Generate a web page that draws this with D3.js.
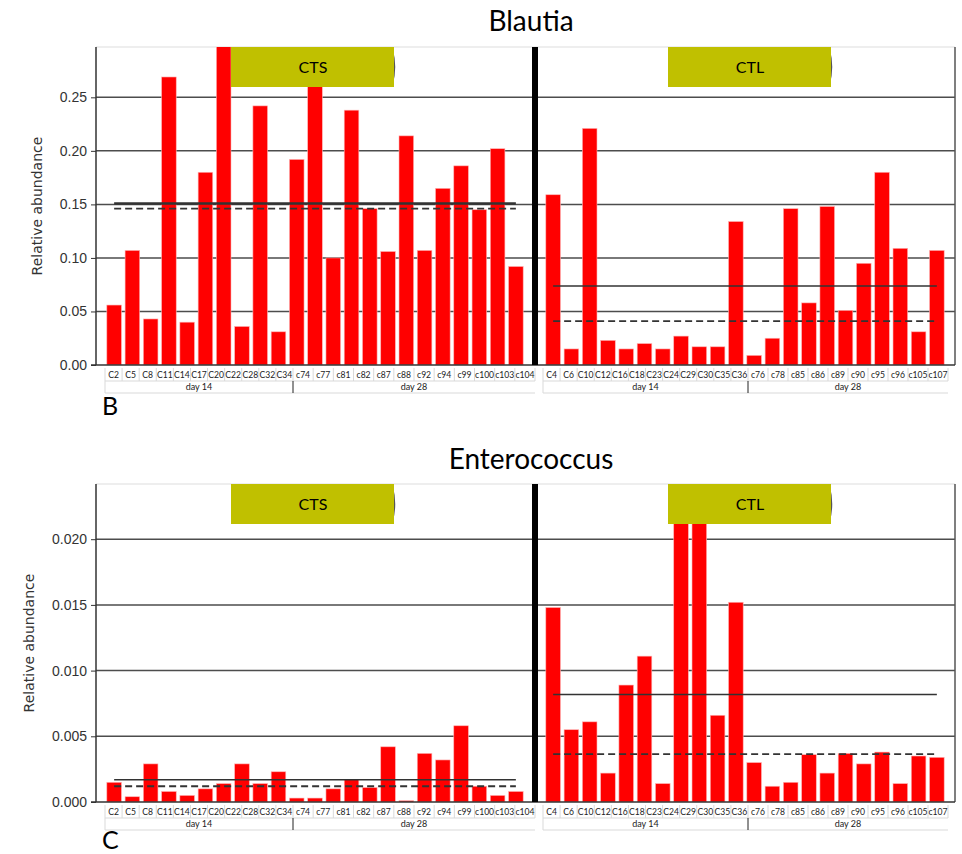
<!DOCTYPE html>
<html>
<head>
<meta charset="utf-8">
<script src="https://cdn.jsdelivr.net/npm/d3@7"></script>
<style>
body { margin: 0; background: #fff; }
svg { font-family: "DejaVu Sans", sans-serif; }
</style>
</head>
<body>
<svg id="chart" width="962" height="854"></svg>
<script>
// sample labels, split by day
let ctsDay14 = ["C2","C5","C8","C11","C14","C17","C20","C22","C28","C32","C34"];
let ctsDay28 = ["c74","c77","c81","c82","c87","c88","c92","c94","c99","c100","c103","c104"];
let ctlDay14 = ["C4","C6","C10","C12","C16","C18","C23","C24","C29","C30","C35","C36"];
let ctlDay28 = ["c76","c78","c85","c86","c89","c90","c95","c96","c105","c107"];

// relative abundance (bars that run off the top are estimated)
let blautiaCTS = [0.056,0.107,0.043,0.269,0.040,0.180,0.300,0.036,0.242,0.031,0.192,
                  0.271,0.100,0.238,0.146,0.106,0.214,0.107,0.165,0.186,0.145,0.202,0.092];
let blautiaCTL = [0.159,0.015,0.221,0.023,0.015,0.020,0.015,0.027,0.017,0.017,0.134,0.009,
                  0.025,0.146,0.058,0.148,0.051,0.095,0.180,0.109,0.031,0.107];
let enteroCTS  = [0.0015,0.0004,0.0029,0.0008,0.0005,0.0010,0.0014,0.0029,0.0014,0.0023,0.0003,
                  0.0003,0.0010,0.0017,0.0011,0.0042,0.0001,0.0037,0.0032,0.0058,0.0012,0.0005,0.0008];
let enteroCTL  = [0.0148,0.0055,0.0061,0.0022,0.0089,0.0111,0.0014,0.0400,0.0380,0.0066,0.0152,0.0030,
                  0.0012,0.0015,0.0036,0.0022,0.0037,0.0029,0.0038,0.0014,0.0035,0.0034];

let blautiaTicks = [0, 0.05, 0.10, 0.15, 0.20, 0.25];
let enteroTicks  = [0, 0.005, 0.010, 0.015, 0.020];

let ctsSamples = ctsDay14.concat(ctsDay28);
let ctlSamples = ctlDay14.concat(ctlDay28);

var svg = d3.select('#chart');
var plotLeft = 96, plotRight = 955;

var xCts = d3.scaleBand().domain(ctsSamples).range([105, 525]).paddingInner(0.2).paddingOuter(0.1);
var xCtl = d3.scaleBand().domain(ctlSamples).range([544, 946]).paddingInner(0.2).paddingOuter(0.1);

function drawPanel(opt, idx) {
    var g = svg.append('g');
    var top = opt.top, bottom = opt.bottom;
    var y = d3.scaleLinear().domain([0, opt.yMax]).range([bottom, top]);

    var clipId = 'clip' + idx;
    svg.append('clipPath').attr('id', clipId)
        .append('rect')
        .attr('x', plotLeft).attr('y', top)
        .attr('width', plotRight - plotLeft).attr('height', bottom - top);

    // title
    g.append('text')
        .attr('x', 531).attr('y', opt.titleY)
        .attr('text-anchor', 'middle')
        .style('font-family', 'Lato, sans-serif')
        .style('font-size', '28px')
        .text(opt.title);

    // grid
    g.selectAll('.grid')
        .data(opt.ticks.filter(d => d > 0))
        .enter().append('line')
        .attr('x1', plotLeft).attr('x2', plotRight)
        .attr('y1', d => y(d)).attr('y2', d => y(d))
        .attr('stroke', '#4d4d4d').attr('stroke-width', 1.5);

    // frame
    g.append('line').attr('x1', plotLeft).attr('x2', plotRight).attr('y1', top).attr('y2', top)
        .attr('stroke', '#dddddd');
    g.append('line').attr('x1', plotRight).attr('x2', plotRight).attr('y1', top).attr('y2', bottom)
        .attr('stroke', '#555').attr('stroke-width', 1.5);

    // y axis
    var yAxis = d3.axisLeft(y).tickValues(opt.ticks).tickFormat(d3.format(opt.fmt)).tickSize(5).tickPadding(4);
    var ax = g.append('g').attr('transform', 'translate(' + plotLeft + ',0)').call(yAxis);
    ax.select('.domain').attr('stroke', '#333').attr('stroke-width', 1.5).attr('d', 'M0,' + top + 'V' + bottom);
    ax.selectAll('.tick line').attr('stroke', '#333');
    ax.selectAll('.tick text').attr('fill', '#333').style('font-size', '14px');

    g.append('text')
        .attr('transform', 'translate(' + opt.labelX + ',' + ((top + bottom) / 2) + ') rotate(-90)')
        .attr('text-anchor', 'middle')
        .attr('fill', '#333')
        .style('font-size', '14px')
        .text('Relative abundance');

    // bars
    var bars = g.append('g').attr('clip-path', 'url(#' + clipId + ')');
    var groups = [
        {x: xCts, samples: ctsSamples, values: opt.cts},
        {x: xCtl, samples: ctlSamples, values: opt.ctl}
    ];
    groups.forEach(function(gr, k) {
        bars.selectAll(null)
            .data(gr.values)
            .enter().append('rect')
            .attr('x', (d, i) => gr.x(gr.samples[i]))
            .attr('width', gr.x.bandwidth())
            .attr('y', d => y(d))
            .attr('height', d => bottom - y(d))
            .attr('fill', '#ff0000')
            .attr('stroke', '#ffb3b3').attr('stroke-width', 0.6);

        // mean (solid) and median (dashed)
        var x1 = gr.x(gr.samples[0]) + gr.x.bandwidth() / 2;
        var x2 = gr.x(gr.samples[gr.samples.length - 1]) + gr.x.bandwidth() / 2;
        var m = d3.mean(gr.values), md = d3.median(gr.values);
        g.append('line').attr('x1', x1).attr('x2', x2).attr('y1', y(m)).attr('y2', y(m))
            .attr('stroke', '#333').attr('stroke-width', idx === 0 && k === 0 ? 2.6 : 1.6);
        g.append('line').attr('x1', x1).attr('x2', x2).attr('y1', y(md)).attr('y2', y(md))
            .attr('stroke', '#333').attr('stroke-width', 1.8).attr('stroke-dasharray', '7,4');
    });

    // bottom axis line
    g.append('line').attr('x1', plotLeft - 5).attr('x2', plotRight).attr('y1', bottom).attr('y2', bottom)
        .attr('stroke', '#333').attr('stroke-width', 1.5);

    // divider between groups
    g.append('rect').attr('x', 532).attr('y', top).attr('width', 6).attr('height', bottom - top)
        .attr('fill', '#000');

    // group boxes
    [{name: 'CTS', x0: 231, x1: 395}, {name: 'CTL', x0: 668, x1: 832}].forEach(function(b) {
        g.append('path')
            .attr('d', 'M' + (b.x1 - 3) + ',' + (top + 2) + 'Q' + (b.x1 + 2) + ',' + (top + 20) + ' ' + (b.x1 - 3) + ',' + (top + 38))
            .attr('fill', 'none').attr('stroke', '#555').attr('stroke-width', 1.5);
        g.append('rect').attr('x', b.x0).attr('y', top).attr('width', b.x1 - b.x0 - 1).attr('height', 40)
            .attr('fill', '#c0c000');
        g.append('text').attr('x', (b.x0 + b.x1) / 2).attr('y', top + 26)
            .attr('text-anchor', 'middle')
            .style('font-family', 'Lato, sans-serif').style('font-size', '16px')
            .text(b.name);
    });

    // sample label strip
    var r1 = bottom + 3, r2 = bottom + 16, r3 = bottom + 28;
    var strips = [
        {days: [ctsDay14, ctsDay28], bounds: [105, 293, 535]},
        {days: [ctlDay14, ctlDay28], bounds: [543, 748, 948]}
    ];
    var lab = g.append('g').style('font-family', 'Lato, sans-serif');
    strips.forEach(function(s) {
        lab.append('line').attr('x1', s.bounds[0]).attr('x2', s.bounds[2]).attr('y1', r2).attr('y2', r2)
            .attr('stroke', '#d9d9d9');
        lab.append('line').attr('x1', s.bounds[0]).attr('x2', s.bounds[2]).attr('y1', r3).attr('y2', r3)
            .attr('stroke', '#d9d9d9');
        lab.append('line').attr('x1', s.bounds[0]).attr('x2', s.bounds[0]).attr('y1', r1).attr('y2', r3)
            .attr('stroke', '#d9d9d9');
        s.days.forEach(function(names, k) {
            var xs = d3.scaleBand().domain(names).range([s.bounds[k], s.bounds[k + 1]]);
            lab.selectAll(null).data(names).enter().append('line')
                .attr('x1', d => xs(d) + xs.bandwidth()).attr('x2', d => xs(d) + xs.bandwidth())
                .attr('y1', r1).attr('y2', r2)
                .attr('stroke', '#d9d9d9');
            lab.selectAll(null).data(names).enter().append('text')
                .attr('x', d => xs(d) + xs.bandwidth() / 2).attr('y', r2 - 3)
                .attr('text-anchor', 'middle')
                .style('font-size', '8.6px').attr('fill', '#222')
                .text(d => d);
            lab.append('text')
                .attr('x', (s.bounds[k] + s.bounds[k + 1]) / 2).attr('y', r3 - 3)
                .attr('text-anchor', 'middle')
                .style('font-size', '9px').attr('fill', '#222')
                .text(k === 0 ? 'day 14' : 'day 28');
        });
        lab.append('line').attr('x1', s.bounds[1]).attr('x2', s.bounds[1]).attr('y1', r2).attr('y2', r3)
            .attr('stroke', '#222');
    });

    // panel letter
    g.append('text').attr('x', 102).attr('y', opt.letterY)
        .style('font-family', 'Lato, sans-serif').style('font-size', '25px')
        .text(opt.letter);
}

drawPanel({title: 'Blautia', titleY: 31, top: 47, bottom: 365, yMax: 0.297,
           ticks: blautiaTicks, fmt: '.2f', cts: blautiaCTS, ctl: blautiaCTL,
           labelX: 42, letter: 'B', letterY: 415}, 0);
drawPanel({title: 'Enterococcus', titleY: 469, top: 484, bottom: 802, yMax: 0.0242,
           ticks: enteroTicks, fmt: '.3f', cts: enteroCTS, ctl: enteroCTL,
           labelX: 34, letter: 'C', letterY: 849}, 1);
</script>
</body>
</html>
